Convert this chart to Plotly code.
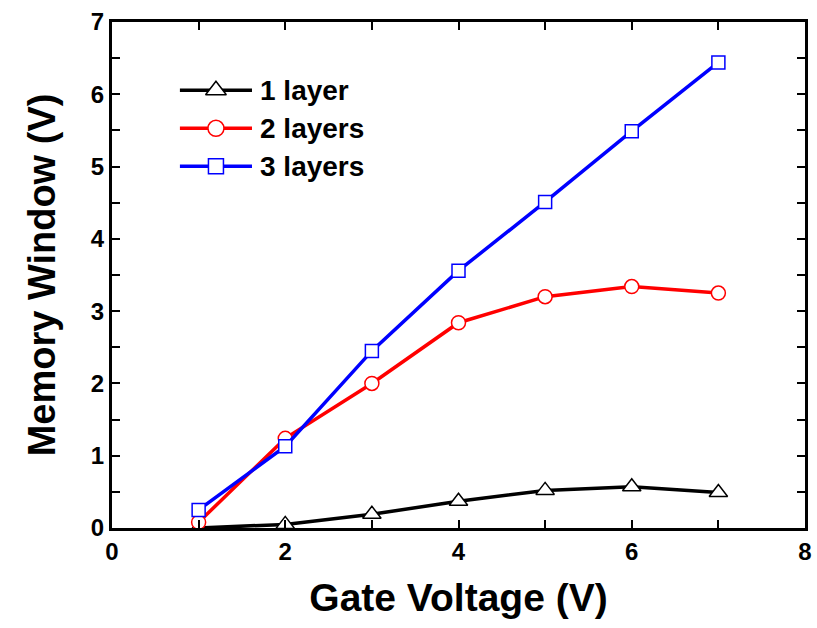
import plotly.graph_objects as go

# Gate voltage sweep (V)
gate_voltage = [1, 2, 3, 4, 5, 6, 7]

# Memory window (V) for each stack
mw_1_layer = [0.0, 0.05, 0.19, 0.37, 0.52, 0.57, 0.49]
mw_2_layers = [0.08, 1.24, 2.00, 2.84, 3.20, 3.34, 3.25]
mw_3_layers = [0.25, 1.13, 2.45, 3.56, 4.51, 5.49, 6.44]

series_names = ["1 layer", "2 layers", "3 layers"]
series_colors = ["black", "#ff0000", "#0000ff"]
series_symbols = ["triangle-up", "circle", "square"]
series_sizes = [16, 14, 13]
series_values = [mw_1_layer, mw_2_layers, mw_3_layers]

FONT = "Liberation Sans, Arial, sans-serif"

fig = go.Figure()

for name, ys, col, sym, sz in zip(series_names, series_values, series_colors,
                                  series_symbols, series_sizes):
    fig.add_trace(go.Scatter(
        x=gate_voltage, y=ys, name=name, mode="lines+markers",
        line=dict(color=col, width=3.5),
        marker=dict(symbol=sym, size=sz, color="white", line=dict(color=col, width=1.5)),
        showlegend=False,
    ))

# Hand-built legend on an invisible overlay axis (0..1 in both directions)
legend_rows = [0.865, 0.790, 0.715]
leg_x0, leg_xm, leg_x1, leg_text_x = 0.098, 0.150, 0.202, 0.210
for name, col, sym, sz, row in zip(series_names, series_colors, series_symbols,
                                   series_sizes, legend_rows):
    fig.add_trace(go.Scatter(
        x=[leg_x0, leg_x1], y=[row, row], mode="lines",
        line=dict(color=col, width=3.5), xaxis="x2", yaxis="y2",
        showlegend=False, hoverinfo="skip",
    ))
    fig.add_trace(go.Scatter(
        x=[leg_xm], y=[row], mode="markers",
        marker=dict(symbol=sym, size=sz + 2, color="white", line=dict(color=col, width=1.5)),
        xaxis="x2", yaxis="y2", showlegend=False, hoverinfo="skip",
    ))
    fig.add_annotation(
        x=leg_text_x, y=row, xref="paper", yref="paper",
        xanchor="left", yanchor="middle", showarrow=False,
        text=name, font=dict(family=FONT, size=28, color="black", weight="bold"),
    )

axis_common = dict(
    showline=True, linecolor="black", linewidth=3, mirror="allticks",
    ticks="inside", ticklen=8, tickwidth=2, tickcolor="black",
    showgrid=False, zeroline=False, automargin=False,
    tickfont=dict(family=FONT, size=24, color="black", weight="bold"),
)

xaxis = dict(
    range=[0, 8], tick0=0, dtick=2,
    minor=dict(dtick=1, ticks="inside", ticklen=8, tickwidth=2, tickcolor="black"),
    title=dict(text="Gate Voltage (V)", standoff=20,
               font=dict(family=FONT, size=39, color="black", weight="bold")),
    **axis_common,
)
yaxis = dict(
    range=[0, 7], tick0=0, dtick=1,
    minor=dict(dtick=0.5, ticks="inside", ticklen=8, tickwidth=2, tickcolor="black"),
    title=dict(text="Memory Window (V)", standoff=24,
               font=dict(family=FONT, size=38, color="black", weight="bold")),
    **axis_common,
)

fig.update_layout(
    width=817, height=628,
    margin=dict(l=112, r=12, t=22, b=100),
    plot_bgcolor="white", paper_bgcolor="white",
    font=dict(family=FONT, color="black"),
    showlegend=False,
    xaxis=xaxis, yaxis=yaxis,
    xaxis2=dict(range=[0, 1], overlaying="x", anchor="y2", visible=False),
    yaxis2=dict(range=[0, 1], overlaying="y", anchor="x2", visible=False),
)

fig.write_html("out.html")
